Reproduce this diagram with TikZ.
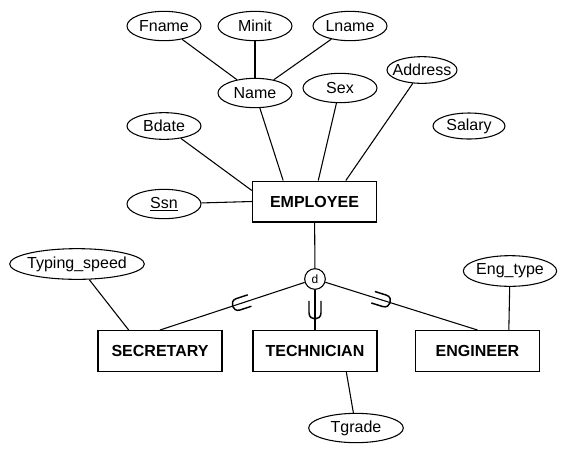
\documentclass[tikz,border=0pt]{standalone}
\usepackage{fontspec}
\setmainfont{Liberation Sans}
\usetikzlibrary{shapes.geometric,calc}

\begin{document}
\begin{tikzpicture}[x=0.75pt, y=-0.75pt, line width=0.8pt,
    attr/.style={ellipse, draw, inner sep=0pt, minimum width=55.5pt,
                 minimum height=22pt, font=\fontsize{12}{14}\selectfont},
    entity/.style={rectangle, draw, line width=1pt, minimum width=93pt,
                   minimum height=30.5pt, font=\fontsize{12}{14}\selectfont\bfseries},
    disjoint/.style={circle, draw, inner sep=0pt, minimum size=15.5pt,
                     font=\fontsize{9}{10}\selectfont},
    subsetsym/.pic={\draw[line width=1.1pt] (-9,6) -- (3,6) .. controls (11,6) and (11,-6) .. (3,-6) -- (-9,-6);}]
  \useasboundingbox (0,0) rectangle (568,455);
  \node[attr] (fname) at (164,26) {Fname};
  \node[attr] (minit) at (255,26) {Minit};
  \node[attr] (lname) at (350,26) {Lname};
  \node[attr] (name) at (255,93) {Name};
  \node[attr] (sex) at (340,88) {Sex};
  \node[attr, minimum width=52.5pt, minimum height=20pt, inner xsep=-3.5pt] (address) at (422,70) {Address};
  \node[attr, minimum width=54pt, minimum height=19.5pt] (salary) at (469,126) {Salary};
  \node[attr, minimum height=20pt] (bdate) at (164,126) {Bdate};
  \node[attr] (ssn) at (164,204) {\underline{Ssn}};
  \node[entity] (emp) at (314.5,201.5) {EMPLOYEE};
  \node[disjoint] (d) at (315,279) {d};
  \node[attr, minimum width=101pt, minimum height=23pt, inner xsep=-2pt] (typing) at (77,264) {Typing\_speed};
  \node[attr, minimum width=70pt, minimum height=23pt, inner xsep=-1pt] (engtype) at (510,271) {Eng\_type};
  \node[entity] (sec) at (160,351) {SECRETARY};
  \node[entity] (tech) at (315,351) {TECHNICIAN};
  \node[entity] (eng) at (477.5,351) {ENGINEER};
  \node[attr, minimum width=71pt] (tgrade) at (356,428) {Tgrade};

  \foreach \a in {fname,minit,lname} \draw (\a) -- (name);
  \draw (name) -- ($(emp.north west)!0.25!(emp.north east)$);
  \draw (sex) -- ($(emp.north west)!0.53!(emp.north east)$);
  \draw (address) -- ($(emp.north west)!0.75!(emp.north east)$);
  \draw (bdate) -- ($(emp.north west)+(0,10)$);
  \draw (ssn) -- (emp.west);
  \draw (emp) -- (d);
  \draw (d) -- (sec.north) pic[pos=0.44, sloped, allow upside down]{subsetsym};
  \draw (d) -- (tech.north) pic[pos=0.5, sloped, allow upside down]{subsetsym};
  \draw (d) -- (eng.north) pic[pos=0.37, sloped, allow upside down]{subsetsym};
  \draw (typing) -- ($(sec.north west)!0.25!(sec.north east)$);
  \draw (engtype) -- ($(eng.north west)!0.75!(eng.north east)$);
  \draw ($(tech.south west)!0.75!(tech.south east)$) -- (tgrade);
\end{tikzpicture}
\end{document}
